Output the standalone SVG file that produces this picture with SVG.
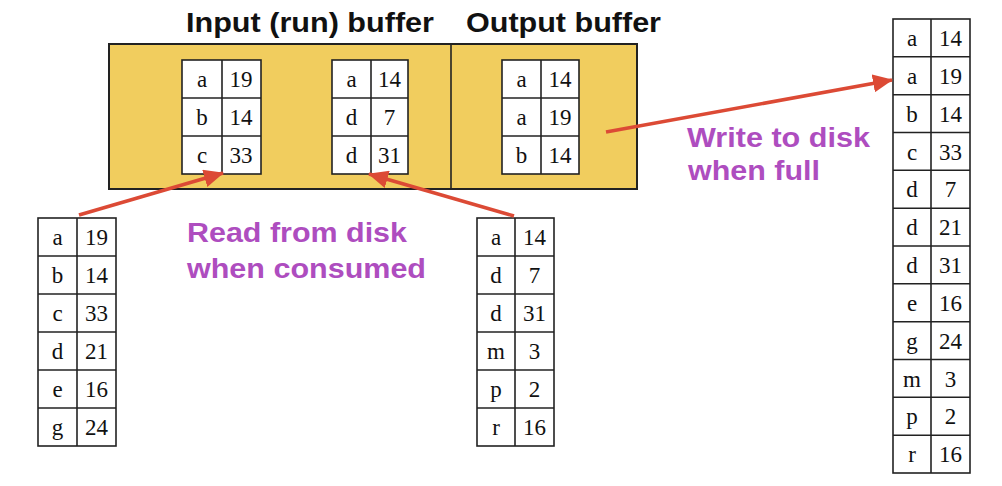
<svg xmlns="http://www.w3.org/2000/svg" width="1002" height="486" viewBox="0 0 1002 486">
<style>
.buf{fill:#F1CD5E;stroke:#222;stroke-width:2}
.tb{fill:#fff;stroke:#222;stroke-width:1.6}
.ln{stroke:#222;stroke-width:1.6}
.c{font-family:"Liberation Serif",serif;font-size:23px;fill:#111;text-anchor:middle}
.hd{font-family:"Liberation Sans",Arial,sans-serif;font-weight:bold;font-size:28px;fill:#111}
.lb{font-family:"Liberation Sans",Arial,sans-serif;font-weight:bold;font-size:27px;fill:#AE4DBF}
.ar{stroke:#DC4A35;stroke-width:3.5;fill:none}
</style>
<defs>
<marker id="ah" viewBox="0 0 20 18" markerWidth="20" markerHeight="18" refX="19" refY="9" orient="auto" markerUnits="userSpaceOnUse">
<path d="M0,0 L20,9 L0,18 z" fill="#DC4A35"/>
</marker>
</defs>
<rect width="1002" height="486" fill="#fff"/>
<g id="headers">
<text class="hd" x="186" y="32" textLength="248" lengthAdjust="spacingAndGlyphs">Input (run) buffer</text>
<text class="hd" x="466" y="32" textLength="195" lengthAdjust="spacingAndGlyphs">Output buffer</text>
</g>
<g id="buffer">
<rect class="buf" x="109" y="44" width="528" height="145"/>
<line class="ln" x1="451" y1="44" x2="451" y2="189" stroke-width="2"/>
</g>
<g id="inputA">
<rect class="tb" x="182" y="60" width="79" height="114"/>
<line class="ln" x1="222" y1="60" x2="222" y2="174"/>
<line class="ln" x1="182" y1="98" x2="261" y2="98"/>
<line class="ln" x1="182" y1="136" x2="261" y2="136"/>
<text class="c" x="202" y="87">a</text><text class="c" x="241" y="87">19</text>
<text class="c" x="202" y="125">b</text><text class="c" x="241" y="125">14</text>
<text class="c" x="202" y="163">c</text><text class="c" x="241" y="163">33</text>
</g>
<g id="inputB">
<rect class="tb" x="332" y="60" width="76" height="114"/>
<line class="ln" x1="371" y1="60" x2="371" y2="174"/>
<line class="ln" x1="332" y1="98" x2="408" y2="98"/>
<line class="ln" x1="332" y1="136" x2="408" y2="136"/>
<text class="c" x="351.5" y="87">a</text><text class="c" x="389.5" y="87">14</text>
<text class="c" x="351.5" y="125">d</text><text class="c" x="389.5" y="125">7</text>
<text class="c" x="351.5" y="163">d</text><text class="c" x="389.5" y="163">31</text>
</g>
<g id="output">
<rect class="tb" x="502" y="60" width="77" height="114"/>
<line class="ln" x1="541" y1="60" x2="541" y2="174"/>
<line class="ln" x1="502" y1="98" x2="579" y2="98"/>
<line class="ln" x1="502" y1="136" x2="579" y2="136"/>
<text class="c" x="521.5" y="87">a</text><text class="c" x="560" y="87">14</text>
<text class="c" x="521.5" y="125">a</text><text class="c" x="560" y="125">19</text>
<text class="c" x="521.5" y="163">b</text><text class="c" x="560" y="163">14</text>
</g>
<g id="run1">
<rect class="tb" x="38" y="218" width="78" height="228"/>
<line class="ln" x1="77" y1="218" x2="77" y2="446"/>
<line class="ln" x1="38" y1="256" x2="116" y2="256"/>
<line class="ln" x1="38" y1="294" x2="116" y2="294"/>
<line class="ln" x1="38" y1="332" x2="116" y2="332"/>
<line class="ln" x1="38" y1="370" x2="116" y2="370"/>
<line class="ln" x1="38" y1="408" x2="116" y2="408"/>
<text class="c" x="57.5" y="245">a</text><text class="c" x="96.5" y="245">19</text>
<text class="c" x="57.5" y="283">b</text><text class="c" x="96.5" y="283">14</text>
<text class="c" x="57.5" y="321">c</text><text class="c" x="96.5" y="321">33</text>
<text class="c" x="57.5" y="359">d</text><text class="c" x="96.5" y="359">21</text>
<text class="c" x="57.5" y="397">e</text><text class="c" x="96.5" y="397">16</text>
<text class="c" x="57.5" y="435">g</text><text class="c" x="96.5" y="435">24</text>
</g>
<g id="run2">
<rect class="tb" x="477" y="218" width="77" height="228"/>
<line class="ln" x1="515" y1="218" x2="515" y2="446"/>
<line class="ln" x1="477" y1="256" x2="554" y2="256"/>
<line class="ln" x1="477" y1="294" x2="554" y2="294"/>
<line class="ln" x1="477" y1="332" x2="554" y2="332"/>
<line class="ln" x1="477" y1="370" x2="554" y2="370"/>
<line class="ln" x1="477" y1="408" x2="554" y2="408"/>
<text class="c" x="496" y="245">a</text><text class="c" x="534.5" y="245">14</text>
<text class="c" x="496" y="283">d</text><text class="c" x="534.5" y="283">7</text>
<text class="c" x="496" y="321">d</text><text class="c" x="534.5" y="321">31</text>
<text class="c" x="496" y="359">m</text><text class="c" x="534.5" y="359">3</text>
<text class="c" x="496" y="397">p</text><text class="c" x="534.5" y="397">2</text>
<text class="c" x="496" y="435">r</text><text class="c" x="534.5" y="435">16</text>
</g>
<g id="result">
<rect class="tb" x="893" y="19" width="77" height="454"/>
<line class="ln" x1="931" y1="19" x2="931" y2="473"/>
<line class="ln" x1="893" y1="56.8" x2="970" y2="56.8"/>
<line class="ln" x1="893" y1="94.7" x2="970" y2="94.7"/>
<line class="ln" x1="893" y1="132.5" x2="970" y2="132.5"/>
<line class="ln" x1="893" y1="170.3" x2="970" y2="170.3"/>
<line class="ln" x1="893" y1="208.2" x2="970" y2="208.2"/>
<line class="ln" x1="893" y1="246" x2="970" y2="246"/>
<line class="ln" x1="893" y1="283.8" x2="970" y2="283.8"/>
<line class="ln" x1="893" y1="321.7" x2="970" y2="321.7"/>
<line class="ln" x1="893" y1="359.5" x2="970" y2="359.5"/>
<line class="ln" x1="893" y1="397.3" x2="970" y2="397.3"/>
<line class="ln" x1="893" y1="435.2" x2="970" y2="435.2"/>
<text class="c" x="912" y="46">a</text><text class="c" x="950.5" y="46">14</text>
<text class="c" x="912" y="84">a</text><text class="c" x="950.5" y="84">19</text>
<text class="c" x="912" y="121.5">b</text><text class="c" x="950.5" y="121.5">14</text>
<text class="c" x="912" y="159.5">c</text><text class="c" x="950.5" y="159.5">33</text>
<text class="c" x="912" y="197">d</text><text class="c" x="950.5" y="197">7</text>
<text class="c" x="912" y="235">d</text><text class="c" x="950.5" y="235">21</text>
<text class="c" x="912" y="273">d</text><text class="c" x="950.5" y="273">31</text>
<text class="c" x="912" y="311">e</text><text class="c" x="950.5" y="311">16</text>
<text class="c" x="912" y="348.5">g</text><text class="c" x="950.5" y="348.5">24</text>
<text class="c" x="912" y="386.5">m</text><text class="c" x="950.5" y="386.5">3</text>
<text class="c" x="912" y="424">p</text><text class="c" x="950.5" y="424">2</text>
<text class="c" x="912" y="462">r</text><text class="c" x="950.5" y="462">16</text>
</g>
<g id="connectors">
<line class="ar" x1="79" y1="215" x2="223" y2="173" marker-end="url(#ah)"/>
<line class="ar" x1="514" y1="216" x2="369" y2="174" marker-end="url(#ah)"/>
<line class="ar" x1="606" y1="132" x2="892" y2="80" marker-end="url(#ah)"/>
</g>
<g id="labels">
<text class="lb" x="187" y="242" textLength="220" lengthAdjust="spacingAndGlyphs">Read from disk</text>
<text class="lb" x="187" y="278" textLength="239" lengthAdjust="spacingAndGlyphs">when consumed</text>
<text class="lb" x="687" y="147" textLength="183" lengthAdjust="spacingAndGlyphs">Write to disk</text>
<text class="lb" x="688" y="180" textLength="132" lengthAdjust="spacingAndGlyphs">when full</text>
</g>
</svg>
